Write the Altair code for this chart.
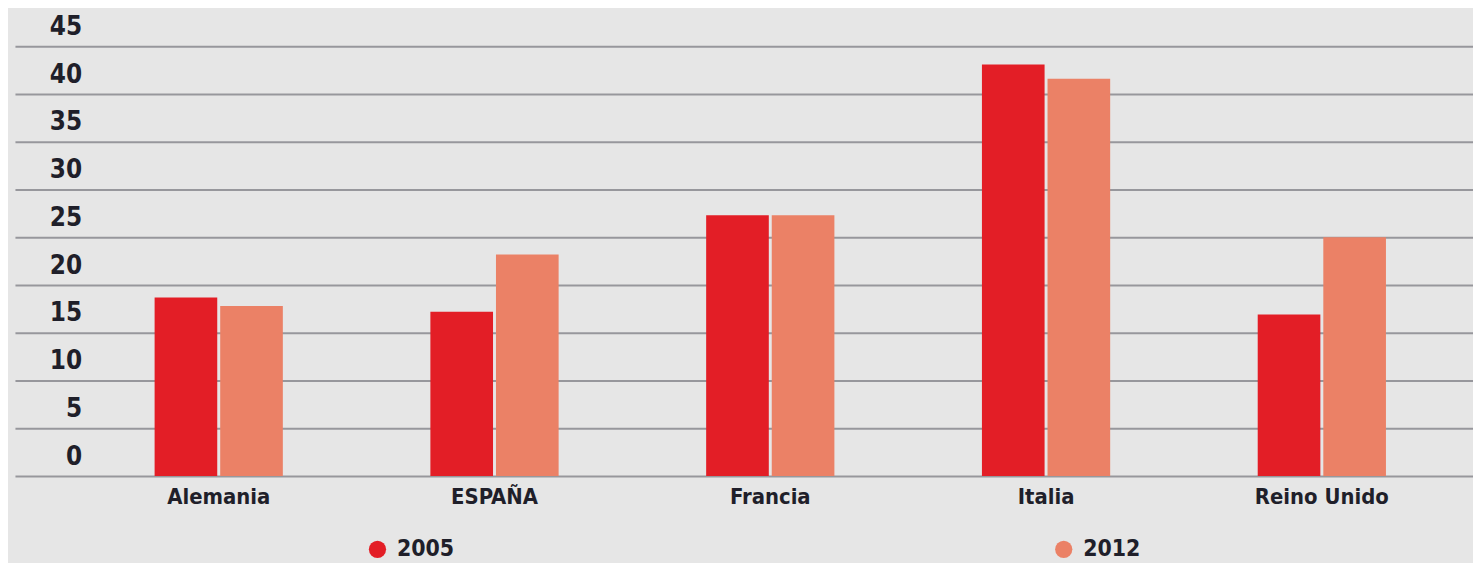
import altair as alt
import pandas as pd

countries = ["Alemania", "ESPAÑA", "Francia", "Italia", "Reino Unido"]
years = ["2005", "2012"]
v2005 = [18.7, 17.2, 27.3, 43.1, 16.9]
v2012 = [17.8, 23.2, 27.3, 41.6, 25.0]
y_ticks = [0, 5, 10, 15, 20, 25, 30, 35, 40, 45]
colors = ["#e31e26", "#eb8166"]

rows = []
for c, a, b in zip(countries, v2005, v2012):
    rows.append({"pais": c, "anio": years[0], "valor": a})
    rows.append({"pais": c, "anio": years[1], "valor": b})
df = pd.DataFrame(rows)

FONT = "DejaVu Sans Condensed, sans-serif"
TXT = "#1f1f2a"

chart = alt.Chart(df).mark_bar().encode(
    x=alt.X(
        "pais:N",
        sort=countries,
        scale=alt.Scale(paddingInner=0.535, paddingOuter=0.411, align=0.616),
        axis=alt.Axis(
            title=None, labelAngle=0, ticks=False, tickSize=0, domain=False,
            labelPadding=21, labelBaseline="middle", labelFontSize=22,
            labelFont=FONT, labelFontWeight="bold", labelColor=TXT, grid=False,
        ),
    ),
    xOffset=alt.XOffset("anio:N", scale=alt.Scale(paddingInner=0.045, paddingOuter=0)),
    y=alt.Y(
        "valor:Q",
        scale=alt.Scale(domain=[0, 45], nice=False),
        axis=alt.Axis(
            title=None, values=y_ticks, ticks=False, tickSize=0, domain=False,
            labelAlign="right", labelBaseline="middle", labelPadding=-67,
            labelOffset=-20, labelOverlap=False, labelFontSize=26,
            labelFont=FONT, labelFontWeight="bold", labelColor=TXT,
            gridColor="#97979c", gridWidth=2, gridOpacity=1,
        ),
    ),
    color=alt.Color(
        "anio:N",
        scale=alt.Scale(domain=years, range=colors),
        legend=alt.Legend(
            title=None, orient="none", legendX=353, legendY=494,
            direction="horizontal", symbolType="circle", symbolSize=300,
            symbolStrokeWidth=0, symbolOpacity=1, labelOffset=8,
            columnPadding=601, labelFontSize=23, labelFont=FONT,
            labelFontWeight="bold", labelColor=TXT, padding=0,
        ),
    ),
).properties(
    width=1466,
    height=432,
    background="#e6e6e6",
    padding={"left": 7, "top": 37, "right": 0, "bottom": 86},
    autosize=alt.AutoSizeParams(type="none"),
).configure_view(stroke=None)

chart.save("out.html", embed_options={"renderer": "svg", "actions": False})
